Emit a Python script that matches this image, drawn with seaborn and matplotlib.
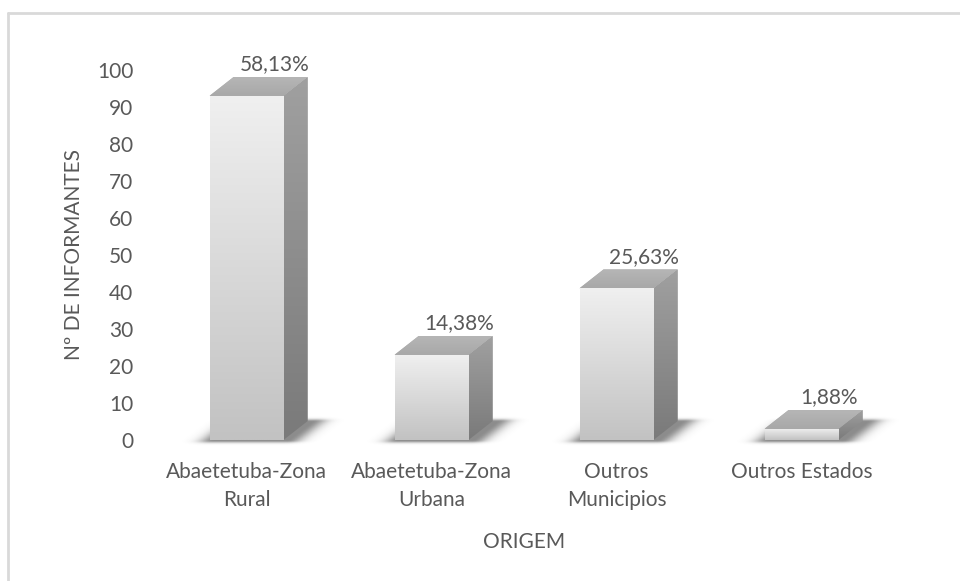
import numpy as np
import pandas as pd
import matplotlib
matplotlib.use("Agg")
import matplotlib.pyplot as plt
import seaborn as sns
from matplotlib.patches import Polygon
from matplotlib.lines import Line2D
from matplotlib.colors import LinearSegmentedColormap

# ---- data ----
categories = ["Abaetetuba-Zona\nRural", "Abaetetuba-Zona\nUrbana", "Outros\nMunicipios", "Outros Estados"]
counts = [93, 23, 41, 3]
percent_labels = ["58,13%", "14,38%", "25,63%", "1,88%"]
y_ticks = list(range(0, 101, 10))
y_title = "Nº DE INFORMANTES"
x_title = "ORIGEM"

sns.set_theme(style="white")
plt.rcParams['font.family'] = ['Lato', 'DejaVu Sans']
TXT = "#595959"
FS = 15

W, H = 960, 581
fig = plt.figure(figsize=(9.6, 5.81), dpi=100)
fig.patch.set_facecolor("white")
# chart border (top and left only, as in the reference crop)
fig.add_artist(Line2D([8/W, 1.0], [1 - 13/H, 1 - 13/H], transform=fig.transFigure,
                      color="#d9d9d9", linewidth=2))
fig.add_artist(Line2D([8/W, 8/W], [0.0, 1 - 13/H], transform=fig.transFigure,
                      color="#d9d9d9", linewidth=2))

ax = fig.add_axes([154/W, (H-440)/H, 740/W, 370/H])
df = pd.DataFrame({"origem": categories, "n": counts})
sns.barplot(data=df, x="origem", y="n", ax=ax, width=0.40, color="#dcdcdc",
            saturation=1, edgecolor="none", errorbar=None)

dx, dy = 0.13, 5.1
pxx, pxy = 740 / 4.0, 370 / 100.0
front_cmap = LinearSegmentedColormap.from_list("f", ["#f0f0f0", "#c2c2c2"])
side_cmap = LinearSegmentedColormap.from_list("s", ["#a0a0a0", "#7a7a7a"])
top_cmap = LinearSegmentedColormap.from_list("t", ["#b6b6b6", "#a8a8a8"])
grad = np.linspace(0, 1, 256).reshape(-1, 1)

for p, lab in zip(ax.patches, percent_labels):
    x0, w, h = p.get_x(), p.get_width(), p.get_height()
    # soft floor shadow
    ex0, ex1 = x0 - 0.15, x0 + w + dx + 0.3
    ey0, ey1 = -1.5, dy + 2.0
    X, Y = np.meshgrid(np.linspace(ex0, ex1, 300), np.linspace(ey0, ey1, 80))
    U = X - (Y / dy) * dx - 4 / pxx
    du = np.maximum(np.maximum(x0 - U, U - (x0 + w)), 0) * pxx
    dv = np.maximum(np.maximum(-Y, Y - dy), 0) * pxy
    alpha = 0.6 * np.exp(-(du / 14.0) ** 2 - (dv / 2.4) ** 2)
    rgba = np.zeros(X.shape + (4,))
    rgba[..., :3] = 0.25
    rgba[..., 3] = alpha
    ax.imshow(rgba, extent=[ex0, ex1, ey0, ey1], origin="lower", aspect="auto",
              zorder=1, clip_on=False, interpolation="bilinear")
    # front
    p.set_zorder(2)
    im = ax.imshow(grad, cmap=front_cmap, extent=[x0, x0 + w, 0, h], aspect="auto",
                   origin="upper", zorder=3)
    im.set_clip_path(p)
    # side
    side = Polygon([(x0 + w, 0), (x0 + w + dx, dy), (x0 + w + dx, h + dy), (x0 + w, h)],
                   closed=True, facecolor="#8c8c8c", edgecolor="none", zorder=2)
    ax.add_patch(side)
    ims = ax.imshow(grad, cmap=side_cmap, extent=[x0 + w, x0 + w + dx, 0, h + dy],
                    aspect="auto", origin="upper", zorder=3)
    ims.set_clip_path(side)
    # top
    top = Polygon([(x0, h), (x0 + dx, h + dy), (x0 + w + dx, h + dy), (x0 + w, h)],
                  closed=True, facecolor="#b0b0b0", edgecolor="none", zorder=2)
    ax.add_patch(top)
    imt = ax.imshow(grad, cmap=top_cmap, extent=[x0, x0 + w + dx, h, h + dy],
                    aspect="auto", origin="upper", zorder=3)
    imt.set_clip_path(top)
    # label
    ax.text(x0 + w / 2 + dx + 0.02, h + dy + 1.8, lab, ha="center", va="baseline",
            fontsize=FS, color=TXT, clip_on=False, zorder=5)

ax.set_xlim(-0.5, 3.5)
ax.set_ylim(0, 100)
ax.set_yticks(y_ticks)
ax.set_yticklabels([str(v) for v in y_ticks], fontsize=FS, color=TXT)
for t in ax.get_xticklabels():
    t.set_fontsize(FS)
    t.set_color(TXT)
    t.set_linespacing(1.5)
ax.tick_params(axis="y", length=0, pad=15)
ax.tick_params(axis="x", length=0, pad=16)
ax.set_xlabel(x_title, fontsize=FS, color=TXT, labelpad=16)
ax.set_ylabel(y_title, fontsize=FS, color=TXT, labelpad=9)
for s in ax.spines.values():
    s.set_visible(False)
ax.set_facecolor("none")

fig.savefig("out.png", dpi=100)
